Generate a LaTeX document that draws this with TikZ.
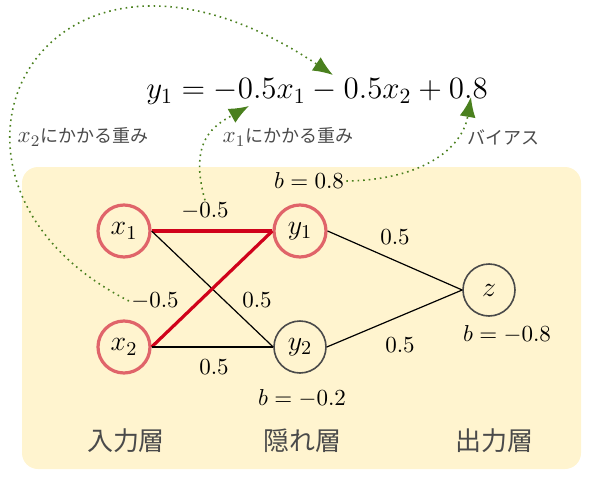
\RequirePackage{fix-cm}
\documentclass[tikz,border=0pt]{standalone}
\usepackage{fontspec}
\usepackage{amsmath}
\usepackage{xcolor}
\usepackage{tikz}
\usetikzlibrary{arrows.meta,positioning}
\newfontfamily\jpfont{Noto Sans CJK JP}
\definecolor{panelbg}{HTML}{FFF4CF}
\definecolor{hotring}{HTML}{E0646A}
\definecolor{hotline}{HTML}{D0021B}
\definecolor{unitgray}{HTML}{4A4A4A}
\definecolor{noteink}{HTML}{4A4A4A}
\definecolor{pointer}{HTML}{4A801E}
\newcommand{\notemath}[1]{{\fontsize{11.5}{13}\selectfont$#1$}}

\begin{document}
\begin{tikzpicture}[
    x=0.5pt, y=-0.5pt,
    unit/.style={circle, draw=unitgray, line width=0.8pt, minimum size=26pt,
                 inner sep=0pt, font=\fontsize{14}{16}\selectfont},
    hot/.style={draw=hotring, line width=1.6pt},
    weight/.style={font=\fontsize{11.5}{13}\selectfont, inner sep=1pt},
    link/.style={line width=0.6pt, draw=black},
    hotlink/.style={line width=1.6pt, draw=hotline},
    note/.style={text=noteink, font=\fontsize{9}{11}\selectfont\jpfont},
    layer/.style={text=noteink, font=\fontsize{13}{15}\selectfont\jpfont},
    pointto/.style={-{Latex[length=10pt,width=8pt]}, draw=pointer,
                    dotted, line width=0.8pt}
]
  \useasboundingbox (0,0) rectangle (590,477);
  \fill[panelbg, rounded corners=8pt] (22,167) rectangle (581,469);

  % formula and notes
  \node[font=\fontsize{15.5}{18}\selectfont] (eq) at (317,92)
    {$y_1 = -0.5x_1 - 0.5x_2 + 0.8$};
  \node[note] (n2) at (83,137) {\notemath{x_2}にかかる重み};
  \node[note] (n1) at (288,137) {\notemath{x_1}にかかる重み};
  \node[note] (nb) at (503,137) {バイアス};
  \coordinate (w2tip) at (333,75);
  \coordinate (w1tip) at (249,106);
  \coordinate (btip) at (471,97);

  % units
  \node[unit, hot] (x1) at (124,231) {$x_1$};
  \node[unit, hot] (x2) at (124,347) {$x_2$};
  \node[unit, hot] (y1) at (300,231) {$y_1$};
  \node[unit] (y2) at (300,347) {$y_2$};
  \node[unit] (z) at (489,290) {$z$};

  \draw[hotlink] (x1.east) -- (y1.west);
  \draw[link] (x1.east) -- (y2.west);
  \draw[hotlink] (x2.east) -- (y1.west);
  \draw[link] (x2.east) -- (y2.west);
  \draw[link] (y1.east) -- (z.west);
  \draw[link] (y2.east) -- (z.west);

  % weights and biases
  \node[weight] (w11) at (205,211) {$-0.5$};
  \node[weight] (w21) at (155,301) {$-0.5$};
  \node[weight] (w12) at (257,300) {$0.5$};
  \node[weight] (w22) at (214,367) {$0.5$};
  \node[weight] (v1) at (395,237) {$0.5$};
  \node[weight] (v2) at (400,345) {$0.5$};
  \node[weight] (b1) at (309,181) {$b = 0.8$};
  \node[weight] (b2) at (302,398) {$b = -0.2$};
  \node[weight] (b3) at (507,334) {$b = -0.8$};

  \node[layer] (lin) at (126,441) {入力層};
  \node[layer] (lhid) at (302,441) {隠れ層};
  \node[layer] (lout) at (494,441) {出力層};

  % pointers
  \draw[pointto] (w21.west) .. controls (-110,180) and (40,-120) .. (w2tip);
  \draw[pointto] (w11.north) .. controls (188,140) and (215,125) .. (w1tip);
  \draw[pointto] (b1.east) .. controls (420,180) and (462,150) .. (btip);
\end{tikzpicture}
\end{document}
